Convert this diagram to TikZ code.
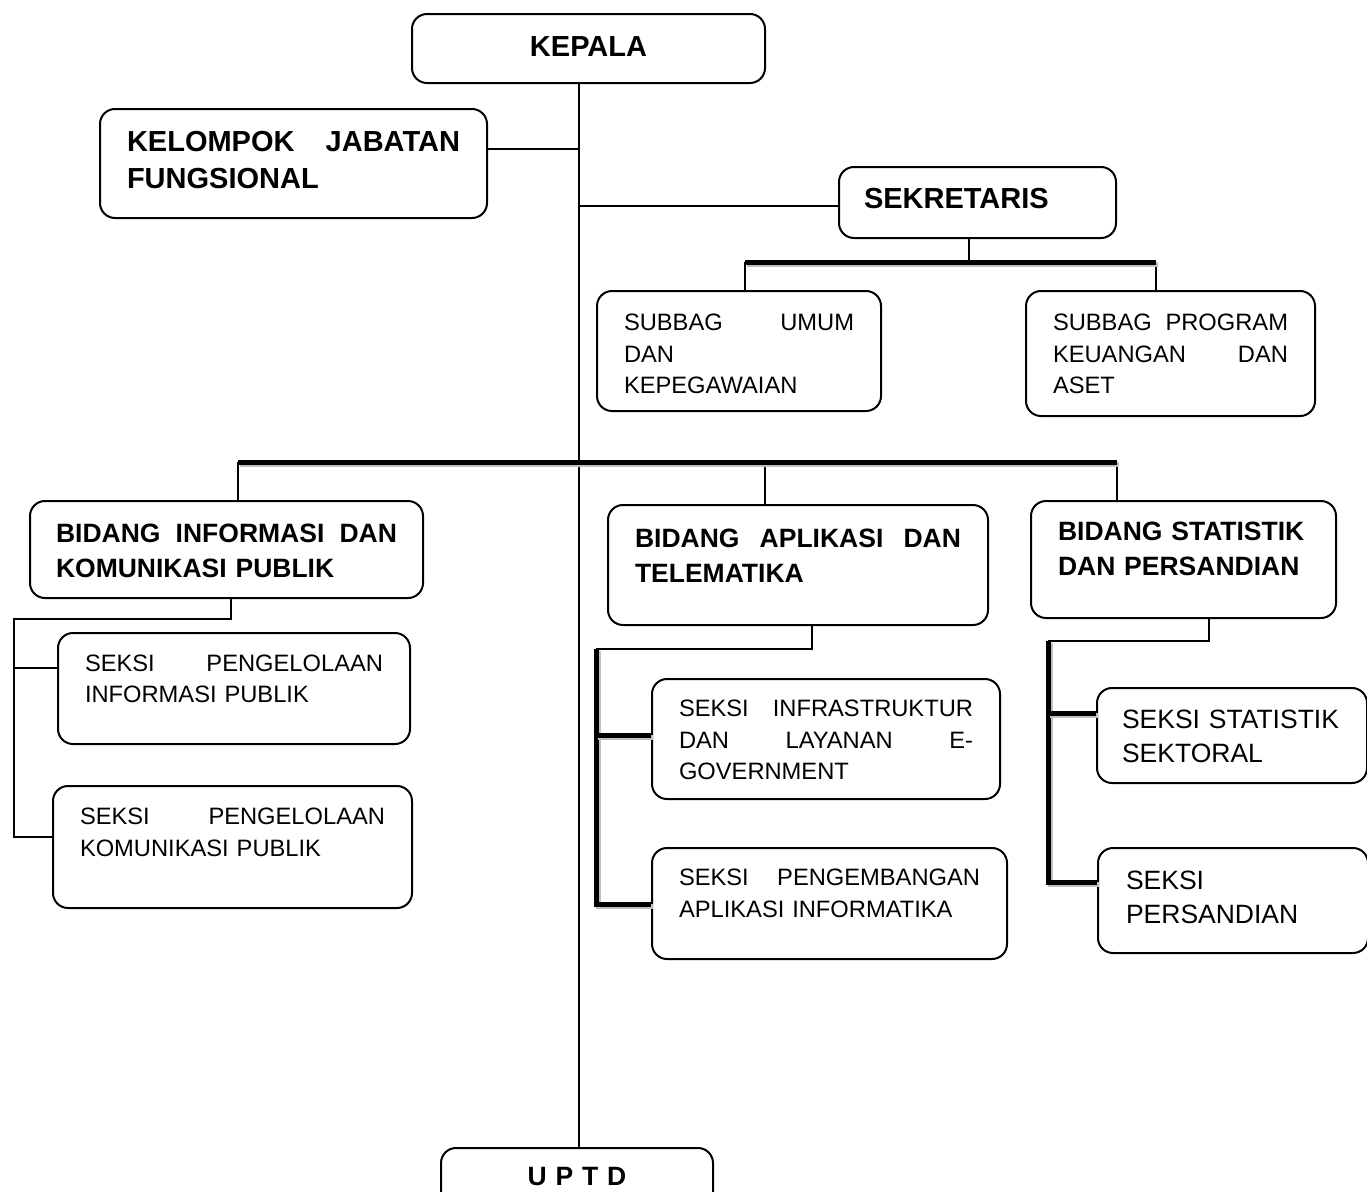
\documentclass[tikz,border=0pt]{standalone}
\usepackage{fontspec}
\setmainfont{Liberation Sans}
\usetikzlibrary{calc}
\begin{document}
\begin{tikzpicture}[x=1pt, y=-1pt,
    unit/.style={draw, line width=2pt, rounded corners=15pt, anchor=north west, inner xsep=27pt, inner ysep=0pt, align=left},
    big/.style={font=\fontsize{29}{37}\selectfont\bfseries},
    bid/.style={font=\fontsize{26.5}{35}\selectfont\bfseries},
    sub/.style={font=\fontsize{23.7}{31.5}\selectfont},
    ss/.style={font=\fontsize{26.5}{34}\selectfont},
    link/.style={line width=2pt},
    bar/.style={line width=5pt, preaction={draw=black!25, line width=5pt, transform canvas={shift={(2pt,-2pt)}}}}]
    \useasboundingbox (0,0) rectangle (1367,1191);
    \clip (0,0) rectangle (1367,1191);

    \node[unit, big, align=center, text width=299pt, text height=42.5pt, text depth=26.5pt] (kepala) at (411,13) {KEPALA};
    \node[unit, big, text width=333pt, text height=42.5pt, text depth=66.5pt] (kjf) at (99,108) {KELOMPOK\hfill JABATAN\\FUNGSIONAL};
    \node[unit, big, inner xsep=25pt, text width=227pt, text height=41.5pt, text depth=29.5pt] (sek) at (838,166) {SEKRETARIS};

    \node[unit, sub, text width=230pt, text height=39.5pt, text depth=80.5pt] (umum) at (596,290) {SUBBAG\hfill UMUM\\DAN\\KEPEGAWAIAN};
    \node[unit, sub, text width=235pt, text height=39.5pt, text depth=85.5pt] (prog) at (1025,290) {SUBBAG\hfill PROGRAM\\KEUANGAN\hfill DAN\\ASET};

    \node[unit, bid, inner xsep=26pt, text width=341pt, text height=41.5pt, text depth=55.5pt] (info) at (29,500) {BIDANG\hfill INFORMASI\hfill DAN\\KOMUNIKASI PUBLIK};
    \node[unit, bid, text width=326pt, text height=42.5pt, text depth=77.5pt] (apl) at (607,504) {BIDANG\hfill APLIKASI\hfill DAN\\TELEMATIKA};
    \node[unit, bid, text width=251pt, text height=39.5pt, text depth=77.5pt] (stat) at (1030,500) {BIDANG STATISTIK\\DAN PERSANDIAN};

    \node[unit, sub, text width=298pt, text height=38pt, text depth=73pt] (pi) at (57,632) {SEKSI\hfill PENGELOLAAN\\INFORMASI PUBLIK};
    \node[unit, sub, text width=305pt, text height=38.5pt, text depth=83.5pt] (kom) at (52,785) {SEKSI\hfill PENGELOLAAN\\KOMUNIKASI PUBLIK};
    \node[unit, sub, text width=294pt, text height=37.5pt, text depth=82.5pt] (infra) at (651,678) {SEKSI\hfill INFRASTRUKTUR\\DAN\hfill LAYANAN\hfill E-\\GOVERNMENT};
    \node[unit, sub, text width=301pt, text height=37.5pt, text depth=73.5pt] (pa) at (651,847) {SEKSI\hfill PENGEMBANGAN\\APLIKASI INFORMATIKA};
    \node[unit, ss, inner xsep=25pt, text width=220pt, text height=40.5pt, text depth=54.5pt] (sst) at (1096,687) {SEKSI STATISTIK\\SEKTORAL};
    \node[unit, ss, inner xsep=28pt, text width=214pt, text height=41.5pt, text depth=63.5pt] (per) at (1097,847) {SEKSI\\PERSANDIAN};

    \node[unit, bid, align=center, text width=218pt, text height=37.5pt, text depth=30pt] (uptd) at (440,1147) {U P T D};

    \coordinate (spine) at (579,0);
    \draw[link] (kepala.south -| spine) -- (uptd.north -| spine);
    \coordinate (kin) at ($(kjf.north east)!0.367!(kjf.south east)$);
    \draw[link] (kin) -- (kin -| spine);
    \coordinate (sin) at ([yshift=-3.5pt]sek.west);
    \draw[link] (sin) -- (sin -| spine);

    \coordinate (sbar) at (0,262);
    \coordinate (sdown) at ([xshift=-8.5pt]sek.south);
    \coordinate (s1) at ([xshift=6pt]umum.north);
    \coordinate (s2) at ([xshift=-14.5pt]prog.north);
    \draw[link] (sdown) -- (sdown |- sbar);
    \draw[link] (s1) -- (s1 |- sbar);
    \draw[link] (s2) -- (s2 |- sbar);
    \draw[bar] (s1 |- sbar) -- (s2 |- sbar);

    \coordinate (bbar) at (0,462);
    \coordinate (b1) at (238,0);
    \coordinate (b2) at (765,0);
    \coordinate (b3) at (1117,0);
    \draw[link] (b1 |- bbar) -- (b1 |- info.north);
    \draw[link] (b2 |- bbar) -- (b2 |- apl.north);
    \draw[link] (b3 |- bbar) -- (b3 |- stat.north);
    \draw[bar] (b1 |- bbar) -- (b3 |- bbar);

    \coordinate (l1) at (231,619);
    \coordinate (l2) at (14,619);
    \draw[link] (l1 |- info.south) -- (l1) -- (l2) -- (l2 |- 0,837) -- (kom.west |- 0,837);
    \draw[link] (l2 |- 0,668) -- (pi.west |- 0,668);

    \coordinate (m1) at (812,649);
    \coordinate (m2) at (596,649);
    \draw[link] (m1 |- apl.south) -- (m1) -- (m2);
    \draw[bar] (m2) -- (m2 |- 0,904) -- (pa.west |- 0,904);
    \draw[bar] (m2 |- 0,735) -- (infra.west |- 0,735);

    \coordinate (r1) at (1209,641);
    \coordinate (r2) at (1048,641);
    \draw[link] (r1 |- stat.south) -- (r1) -- (r2);
    \draw[bar] (r2) -- (r2 |- 0,882) -- (per.west |- 0,882);
    \draw[bar] (r2 |- 0,713) -- (sst.west |- 0,713);
\end{tikzpicture}
\end{document}
